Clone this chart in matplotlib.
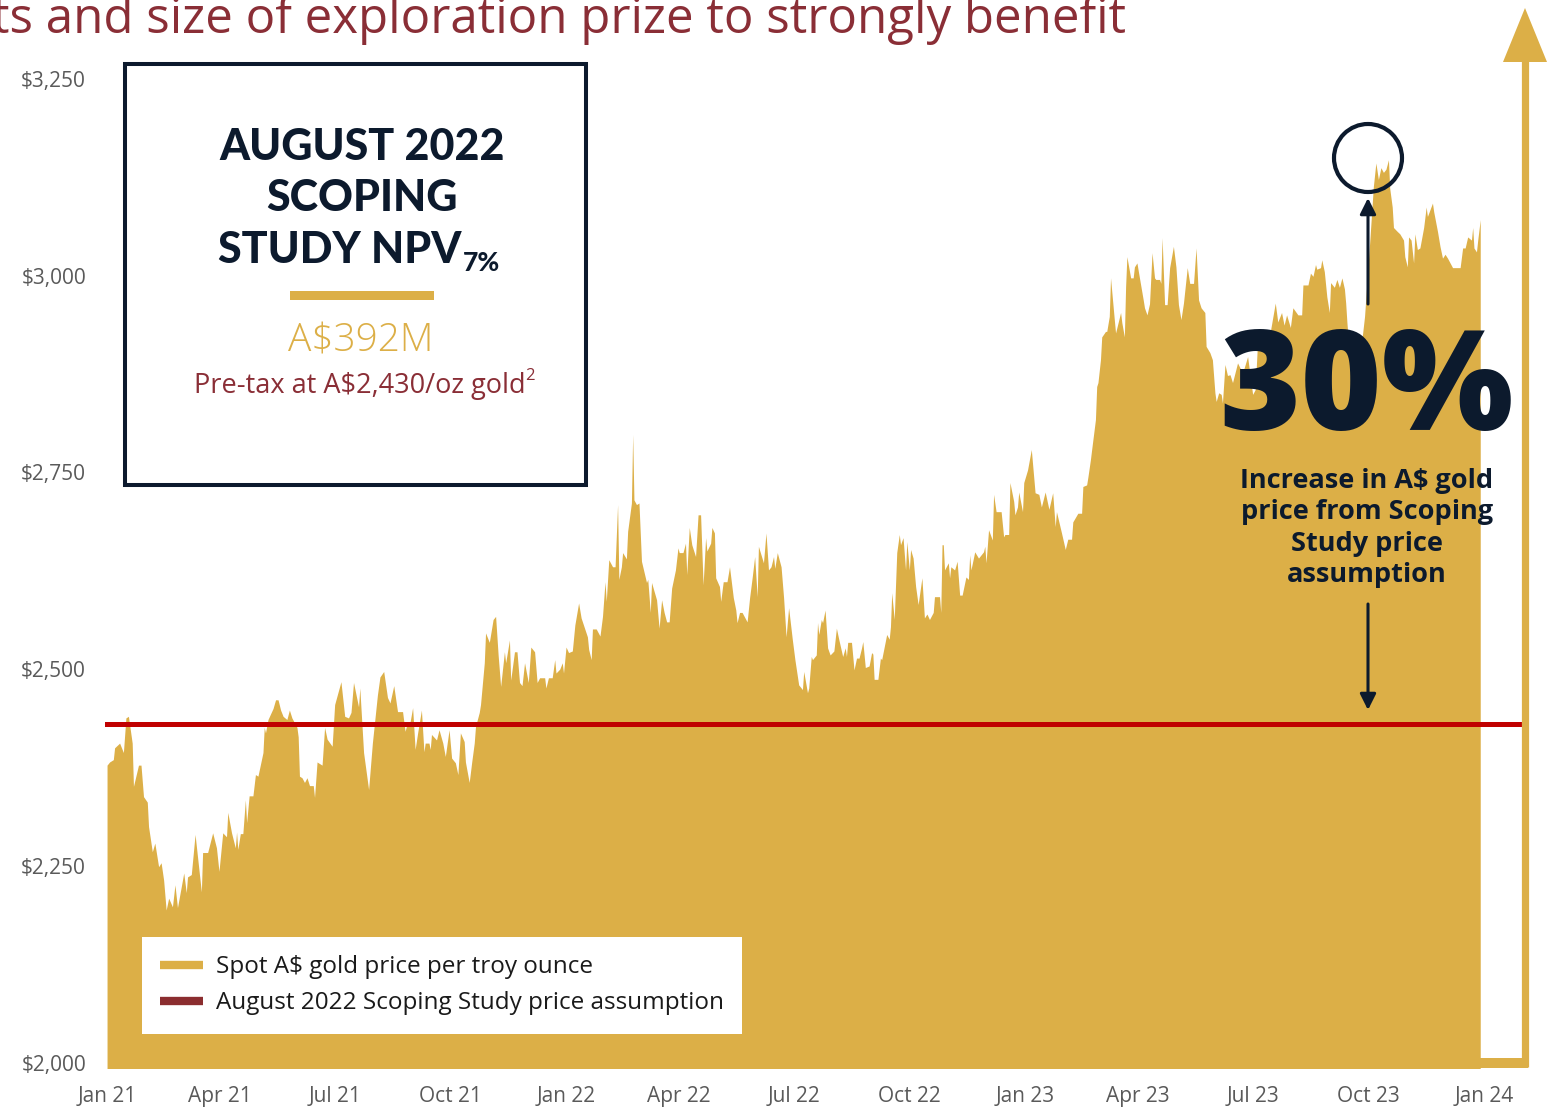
import numpy as np
import matplotlib
matplotlib.use('Agg')
import matplotlib.pyplot as plt
import matplotlib.dates as mdates
from matplotlib.lines import Line2D
from matplotlib.patches import Rectangle, Circle, Polygon
from matplotlib.ticker import FuncFormatter

plt.rcParams['font.family'] = ['Open Sans', 'DejaVu Sans']

GOLD = '#DCAF47'
NAVY = '#0C1A2D'
MAROON = '#8A2E36'
LEGEND_MAROON = '#8B2D2F'
RED = '#C00000'
GREY = '#5A5A5A'

# ---------------- data ----------------
start_date = '2021-01-01'   # day offsets below are counted from this date

days_2021 = [0, 2, 5, 6, 10, 13, 15, 17, 20, 21, 25, 27, 29, 32, 33, 36, 38, 41, 43, 45, 47, 49, 52, 54, 56,
             61, 63, 64, 67, 70, 75, 76, 80, 84, 87, 89, 92, 95, 96, 99, 102, 103, 104, 106, 108, 110, 111,
             113, 116, 118, 120, 124, 125, 126, 128, 132, 134, 136, 138, 140, 143, 145, 147, 151, 152, 153,
             155, 157, 159, 161, 164, 165, 167, 171, 173, 175, 179, 181, 186, 189, 192, 194, 196, 200, 201,
             204, 208, 211, 215, 217, 220, 223, 225, 228, 231, 235, 237, 239, 241, 243, 245, 247, 250, 252,
             253, 256, 257, 258, 262, 264, 267, 269, 272, 274, 277, 279, 281, 284, 285, 288, 290, 292, 293,
             296, 297, 300, 301, 304, 307, 309, 311, 313, 316, 317, 320, 321, 324, 326, 328, 330, 332, 335,
             337, 340, 342, 344, 348, 349, 351, 354, 356, 357, 360, 362, 363]
price_2021 = [2378, 2382, 2385, 2400, 2406, 2394, 2438, 2440, 2406, 2351, 2378, 2378, 2338, 2331, 2300, 2268,
              2279, 2249, 2254, 2232, 2194, 2209, 2198, 2226, 2197, 2241, 2216, 2236, 2239, 2290, 2217, 2267,
              2267, 2292, 2273, 2243, 2292, 2287, 2318, 2292, 2273, 2293, 2271, 2291, 2291, 2334, 2305, 2339,
              2339, 2366, 2364, 2394, 2426, 2419, 2436, 2450, 2461, 2461, 2448, 2440, 2436, 2448, 2438, 2426,
              2414, 2364, 2362, 2356, 2362, 2352, 2352, 2337, 2382, 2378, 2426, 2411, 2402, 2455, 2484, 2440,
              2438, 2445, 2483, 2452, 2476, 2394, 2347, 2406, 2467, 2490, 2497, 2464, 2457, 2479, 2446, 2446,
              2421, 2433, 2433, 2451, 2398, 2419, 2448, 2395, 2406, 2406, 2398, 2417, 2410, 2423, 2406, 2389,
              2423, 2387, 2381, 2366, 2419, 2408, 2382, 2356, 2382, 2406, 2427, 2445, 2455, 2508, 2546, 2534,
              2563, 2567, 2518, 2478, 2522, 2508, 2537, 2486, 2522, 2522, 2483, 2479, 2508, 2483, 2528, 2522,
              2483, 2489, 2489, 2476, 2489, 2489, 2512, 2495, 2500, 2508, 2495]

days_2022 = [365, 367, 370, 372, 375, 377, 382, 383, 385, 386, 389, 392, 394, 396, 397, 399, 402, 404, 406,
             407, 409, 410, 413, 414, 417, 418, 419, 421, 423, 425, 429, 430, 432, 433, 437, 439, 441, 443,
             445, 447, 449, 452, 454, 455, 458, 460, 461, 463, 465, 468, 470, 472, 474, 476, 477, 480, 481,
             483, 484, 487, 488, 490, 493, 495, 498, 500, 501, 503, 505, 509, 511, 513, 515, 517, 518, 522,
             524, 526, 528, 530, 531, 533, 536, 538, 540, 542, 545, 547, 550, 553, 554, 557, 558, 560, 561,
             564, 565, 566, 568, 569, 571, 573, 575, 578, 580, 582, 585, 587, 588, 589, 592, 594, 596, 598,
             600, 601, 603, 606, 608, 609, 610, 613, 615, 616, 618, 620, 622, 623, 624, 626, 628, 630, 631,
             633, 635, 636, 638, 639, 641, 643, 645, 648, 650, 652, 654, 657, 658, 662, 663, 664, 665, 666,
             669, 670, 671, 674, 676, 678, 680, 683, 685, 686, 687, 690, 693, 697, 698, 699, 701, 704, 705,
             707, 711, 713, 714, 717, 718, 721, 722, 724, 725, 728, 729]
price_2022 = [2528, 2521, 2523, 2556, 2584, 2565, 2541, 2525, 2512, 2551, 2551, 2542, 2567, 2611, 2586, 2639,
              2630, 2630, 2709, 2614, 2630, 2648, 2640, 2675, 2711, 2798, 2715, 2709, 2711, 2637, 2610, 2614,
              2572, 2610, 2588, 2552, 2588, 2572, 2560, 2560, 2603, 2626, 2654, 2648, 2648, 2660, 2620, 2680,
              2658, 2643, 2696, 2696, 2607, 2667, 2650, 2660, 2680, 2673, 2616, 2605, 2586, 2611, 2611, 2630,
              2591, 2575, 2559, 2572, 2572, 2560, 2591, 2616, 2643, 2592, 2656, 2635, 2673, 2626, 2630, 2643,
              2628, 2648, 2630, 2591, 2541, 2578, 2537, 2512, 2480, 2474, 2497, 2470, 2476, 2516, 2512, 2518,
              2559, 2544, 2563, 2559, 2575, 2527, 2518, 2523, 2552, 2537, 2516, 2527, 2516, 2534, 2534, 2499,
              2514, 2514, 2527, 2535, 2502, 2504, 2521, 2519, 2487, 2487, 2514, 2512, 2528, 2544, 2538, 2554,
              2597, 2563, 2648, 2671, 2658, 2667, 2626, 2662, 2626, 2652, 2641, 2605, 2582, 2616, 2565, 2570,
              2563, 2572, 2592, 2592, 2572, 2658, 2658, 2626, 2635, 2616, 2630, 2626, 2637, 2594, 2594, 2617,
              2614, 2645, 2626, 2649, 2641, 2649, 2656, 2635, 2677, 2664, 2722, 2700, 2700, 2668, 2671, 2671,
              2737, 2713, 2696, 2706, 2725, 2700, 2737]

days_2023 = [732, 735, 738, 741, 743, 746, 749, 752, 754, 755, 759, 762, 764, 767, 768, 772, 775, 776, 779,
             780, 782, 783, 786, 787, 788, 790, 791, 794, 795, 797, 798, 801, 802, 804, 806, 807, 809, 810,
             811, 814, 816, 817, 819, 821, 824, 825, 827, 829, 831, 833, 834, 837, 838, 839, 841, 843, 845,
             848, 850, 852, 854, 856, 859, 861, 864, 866, 868, 870, 873, 874, 877, 879, 881, 882, 884, 886,
             887, 889, 891, 893, 895, 899, 903, 907, 911, 913, 915, 919, 923, 929, 930, 931, 934, 936, 938,
             941, 943, 947, 950, 951, 955, 957, 959, 961, 962, 965, 966, 968, 970, 972, 973, 976, 978, 980,
             982, 984, 985, 986, 988, 992, 995, 998, 1000, 1004, 1007, 1009, 1011, 1013, 1015, 1017, 1019,
             1020, 1022, 1023, 1026, 1028, 1031, 1032, 1034, 1035, 1037, 1039, 1040, 1042, 1044, 1047, 1049,
             1050, 1054, 1055, 1058, 1060, 1062, 1064, 1066, 1070, 1074, 1076, 1078, 1080, 1082, 1085, 1086,
             1087, 1089, 1090, 1092]
price_2023 = [2753, 2779, 2724, 2722, 2706, 2725, 2703, 2724, 2681, 2700, 2673, 2652, 2665, 2665, 2687, 2698,
              2698, 2732, 2734, 2744, 2766, 2779, 2817, 2859, 2864, 2893, 2922, 2929, 2929, 2948, 2997, 2944,
              2927, 2940, 2953, 2940, 2922, 2986, 3024, 2997, 2997, 3011, 3016, 2997, 2969, 2959, 2950, 2964,
              3029, 2997, 2995, 2995, 2990, 3048, 2963, 2963, 3010, 3037, 3011, 2963, 2944, 2965, 3010, 2990,
              2990, 3035, 2969, 2959, 2953, 2910, 2902, 2893, 2851, 2840, 2851, 2849, 2838, 2887, 2873, 2874,
              2864, 2889, 2876, 2897, 2849, 2855, 2918, 2905, 2910, 2965, 2953, 2941, 2953, 2937, 2950, 2934,
              2959, 2950, 2950, 2988, 2988, 3003, 2999, 3014, 3008, 3010, 3020, 3005, 2973, 2953, 2991, 2985,
              2995, 2985, 2997, 2983, 2965, 2940, 2900, 2870, 2880, 2920, 2948, 3040, 3113, 3143, 3122, 3137,
              3131, 3135, 3147, 3111, 3087, 3061, 3056, 3053, 3045, 3024, 3011, 3049, 3045, 3016, 3053, 3033,
              3035, 3061, 3087, 3075, 3092, 3081, 3056, 3037, 3022, 3027, 3022, 3010, 3010, 3010, 3035, 3035,
              3049, 3045, 3061, 3035, 3030, 3045, 3071]

assumption_price = 2430
y_ticks = [2000, 2250, 2500, 2750, 3000, 3250]
legend_labels = ['Spot A$ gold price per troy ounce', 'August 2022 Scoping Study price assumption']
box_title = ['AUGUST 2022', 'SCOPING', 'STUDY NPV']
box_sub = '7%'
npv_value = 'A$392M'
npv_note = 'Pre-tax at A$2,430/oz gold'
big_number = '30%'
big_caption = 'Increase in A$ gold\nprice from Scoping\nStudy price\nassumption'
top_title = 'ts and size of exploration prize to strongly benefit'

# ---------------- figure ----------------
days = np.array(days_2021 + days_2022 + days_2023, dtype=float)
price = np.array(price_2021 + price_2022 + price_2023, dtype=float)
base = mdates.date2num(np.datetime64(start_date))
x = base + days

W, H = 1554, 1108
fig = plt.figure(figsize=(W / 100, H / 100), dpi=100)
ax = fig.add_axes([100 / W, 1 - 1068.2 / H, 1445 / W, 1068.2 / H])

ax.fill_between(x, price, 1900, color=GOLD, linewidth=0, zorder=1)
ax.axhline(assumption_price, xmin=7 / 1445, xmax=1420 / 1445, color=RED, lw=3.6, zorder=3)

ax.set_ylim(1993, 3350)
ax.set_xlim(base - 5.6, base + 1143.5)
ax.set_yticks(y_ticks)
ax.yaxis.set_major_formatter(FuncFormatter(lambda v, p: f'${v:,.0f}'))
ax.xaxis.set_major_locator(mdates.MonthLocator(bymonth=(1, 4, 7, 10)))
ax.xaxis.set_major_formatter(mdates.DateFormatter('%b %y'))
ax.tick_params(axis='both', length=0, labelsize=15, labelcolor=GREY)
ax.tick_params(axis='y', pad=10)
ax.tick_params(axis='x', pad=13)
for s in ax.spines.values():
    s.set_visible(False)
ax.set_facecolor('none')

handles = [Line2D([], [], color=GOLD, lw=6, solid_capstyle='butt'),
           Line2D([], [], color=LEGEND_MAROON, lw=6, solid_capstyle='butt')]
leg = ax.legend(handles, legend_labels, loc='upper left', bbox_to_anchor=(142 / W, 1 - 937 / H),
                bbox_transform=fig.transFigure, frameon=True, fancybox=False, framealpha=1,
                edgecolor='none', facecolor='white', borderaxespad=0,
                prop={'family': 'Open Sans', 'size': 17.5},
                handlelength=1.75, handletextpad=0.55, borderpad=0.75, labelspacing=0.5)
for t in leg.get_texts():
    t.set_color('#1A1A1A')

# ---------------- overlay annotations (pixel coordinates) ----------------
ov = fig.add_axes([0, 0, 1, 1], zorder=5)
ov.set_xlim(0, W)
ov.set_ylim(H, 0)
ov.axis('off')
ov.patch.set_alpha(0)

ov.text(-8, 33, top_title, ha='left', va='baseline', fontsize=35.5, color=MAROON, family='Open Sans')

ov.add_patch(Rectangle((125, 64), 461, 421, fill=False, edgecolor=NAVY, lw=2.9))
kw = dict(va='baseline', fontsize=31, fontweight='black', family='Lato', color=NAVY)
ov.text(362, 160, box_title[0], ha='center', **kw)
ov.text(362, 211, box_title[1], ha='center', **kw)
ov.text(461, 263, box_title[2], ha='right', **kw)
ov.text(463, 271, box_sub, ha='left', va='baseline', fontsize=19, fontweight='black', family='Lato', color=NAVY)
ov.add_patch(Rectangle((290, 291), 144, 9, color=GOLD, lw=0))
ov.text(361, 352, npv_value, ha='center', va='baseline', fontsize=28, fontweight='light', family='Open Sans', color=GOLD)
note = ov.text(360, 393, npv_note, ha='center', va='baseline', fontsize=19.5,
               family='Open Sans', color=MAROON)
fig.canvas.draw()
bb = note.get_window_extent(fig.canvas.get_renderer())
ov.text(bb.x1 - 1, 380, '2', ha='left', va='baseline', fontsize=12, family='Open Sans', color=MAROON)

ov.add_patch(Circle((1368, 158), 34, fill=False, edgecolor=NAVY, lw=3))
ov.annotate('', xy=(1368, 198), xytext=(1368, 304),
            arrowprops=dict(arrowstyle='-|>', color=NAVY, lw=2.2, mutation_scale=24, shrinkA=0, shrinkB=0))
ov.annotate('', xy=(1368, 710), xytext=(1368, 604),
            arrowprops=dict(arrowstyle='-|>', color=NAVY, lw=2.2, mutation_scale=24, shrinkA=0, shrinkB=0))

ov.text(1367, 430, big_number, ha='center', va='baseline', fontsize=100, fontweight='heavy',
        family='Open Sans', color=NAVY)
ov.text(1367, 528, big_caption, ha='center', va='center', ma='center', fontsize=19.5, fontweight='bold',
        family='Open Sans', color=NAVY, linespacing=1.26)

# right-hand gold arrow
ov.plot([1478, 1528], [1063, 1063], color=GOLD, lw=7.2, solid_capstyle='butt')
ov.plot([1525, 1525], [1067, 60], color=GOLD, lw=5.2, solid_capstyle='butt')
ov.add_patch(Polygon([[1503, 62], [1547, 62], [1525, 8]], closed=True, color=GOLD, lw=0))

fig.savefig('out.png', dpi=100)
